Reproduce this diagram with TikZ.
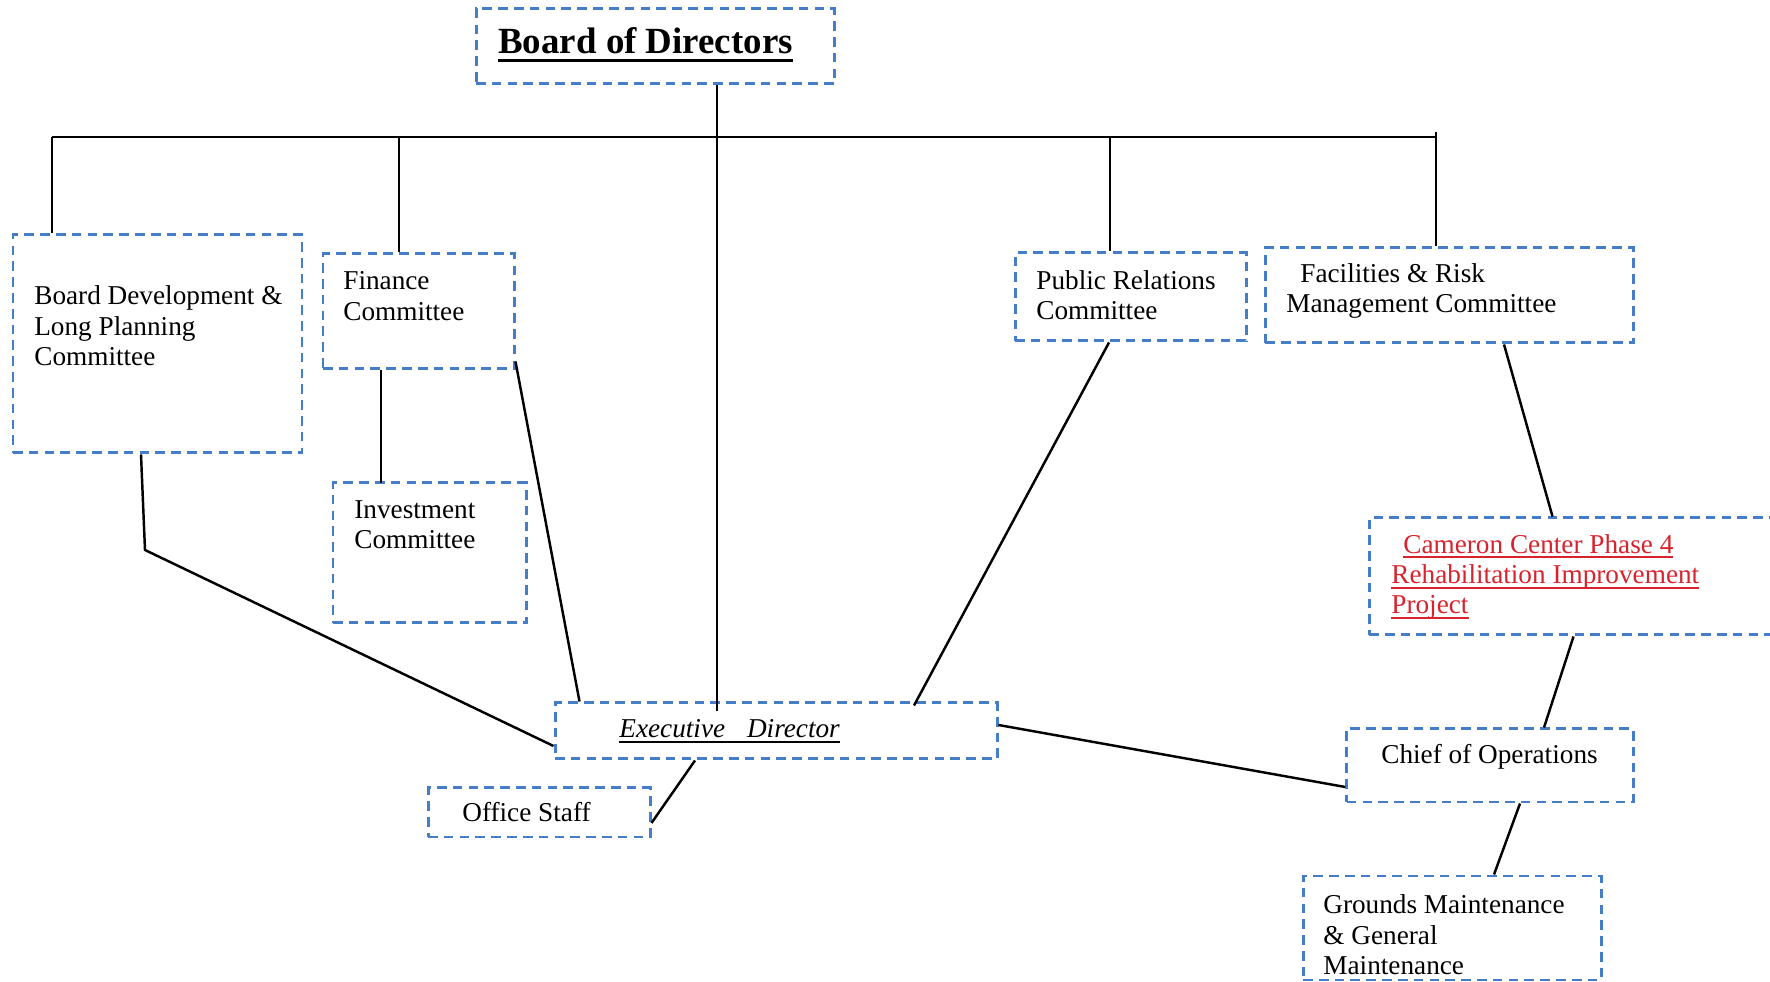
\documentclass[tikz,border=0pt]{standalone}
\usepackage{fontspec}
\setmainfont{Liberation Serif}
\usepackage{tikz}
\definecolor{boxblue}{RGB}{70,125,200}
\definecolor{projred}{RGB}{215,35,45}
\newsavebox{\ulsave}
\newcommand{\ulbar}[3]{\sbox\ulsave{#3}\leavevmode\rlap{\rule[-#1]{\wd\ulsave}{#2}}\usebox\ulsave}
\tikzset{
  orgbox/.style={draw=boxblue, line width=1.7pt, dash pattern=on 5.5pt off 3.5pt, inner sep=0pt},
  link/.style={draw=black, line width=1.4pt},
  boxtext/.style={inner sep=0pt, align=left, font=\fontsize{15.5}{17.3}\selectfont},
}

\begin{document}
\begin{tikzpicture}
  \useasboundingbox (0,0) rectangle (35.4,19.64);
  \clip (0,0) rectangle (35.4,19.64);

  % boxes
  \node[orgbox, minimum width=7.16cm, minimum height=1.50cm] (board) at (13.10,18.71) {};
  \node[orgbox, minimum width=5.78cm, minimum height=4.36cm] (bdev) at (3.15,12.76) {};
  \node[orgbox, minimum width=3.82cm, minimum height=2.30cm] (fin) at (8.37,13.41) {};
  \node[orgbox, minimum width=3.86cm, minimum height=2.80cm] (inv) at (8.59,8.58) {};
  \node[orgbox, minimum width=8.84cm, minimum height=1.12cm] (exec) at (15.52,5.02) {};
  \node[orgbox, minimum width=4.44cm, minimum height=0.98cm] (staff) at (10.78,3.39) {};
  \node[orgbox, minimum width=4.62cm, minimum height=1.76cm] (pr) at (22.61,13.70) {};
  \node[orgbox, minimum width=7.36cm, minimum height=1.90cm] (fac) at (28.98,13.73) {};
  \node[orgbox, minimum width=8.62cm, minimum height=2.34cm] (cam) at (31.69,8.11) {};
  \node[orgbox, minimum width=5.73cm, minimum height=1.46cm] (chief) at (29.80,4.33) {};
  \node[orgbox, minimum width=5.96cm, minimum height=2.08cm] (grounds) at (29.04,1.08) {};

  % texts
  \node[boxtext, anchor=base west, font=\fontsize{21}{24}\selectfont\bfseries] (boardtxt) at (9.96,18.56) {\ulbar{4.5pt}{1.7pt}{Board of Directors}};
  \node[boxtext, anchor=west] (bdevtxt) at (0.68,13.12) {Board Development \&\\ Long Planning\\ Committee};
  \node[boxtext, anchor=west] (fintxt) at (6.86,13.72) {Finance\\ Committee};
  \node[boxtext, anchor=west] (invtxt) at (7.08,9.14) {Investment\\ Committee};
  \node[boxtext, anchor=west] (prtxt) at (20.72,13.74) {Public Relations\\ Committee};
  \node[boxtext, anchor=west] (factxt) at (25.72,13.82) {\hspace*{0.28cm}Facilities \& Risk\\ Management Committee};
  \node[boxtext, anchor=west, text=projred] (camtxt) at (27.82,8.10) {\hspace*{0.24cm}\ulbar{3pt}{1.1pt}{Cameron Center Phase 4}\\ \ulbar{3pt}{1.1pt}{Rehabilitation Improvement}\\ \ulbar{3pt}{1.1pt}{Project}};
  \node[boxtext, anchor=base west, font=\fontsize{15.5}{17.3}\selectfont\itshape] (exectxt) at (12.38,4.88) {\ulbar{3pt}{1.1pt}{Executive\hspace{0.8em}Director}};
  \node[boxtext, anchor=base west] (stafftxt) at (9.24,3.20) {Office Staff};
  \node[boxtext, anchor=base west] (chieftxt) at (27.62,4.36) {Chief of Operations};
  \node[boxtext, anchor=west] (groundstxt) at (26.46,0.94) {Grounds Maintenance\\ \& General\\ Maintenance};

  % bus and drops
  \coordinate (busL) at (1.04,16.90);
  \coordinate (busR) at (28.72,16.90);
  \coordinate (finJ) at (7.98,16.90);
  \coordinate (prJ) at (22.20,16.90);
  \coordinate (trunk) at (14.34,16.90);
  \draw[link] (busL) -- (busR);
  \draw[link] (busL) -- (busL |- bdev.north);
  \draw[link] (finJ) -- (finJ |- fin.north);
  \draw[link] (prJ) -- (prJ |- pr.north);
  \draw[link] ([yshift=0.1cm]busR) -- (busR |- fac.north);
  \draw[link] (trunk |- board.south) -- (trunk |- exec.north) -- ++(0,-0.2);

  % links to the director and below
  \coordinate (bend) at (2.90,8.64);
  \draw[link] ([xshift=-0.33cm]bdev.south) -- (bend) -- ([yshift=-0.3cm]exec.west);
  \draw[link] ([yshift=0.18cm]fin.south east) -- ([xshift=0.52cm]exec.north west);
  \draw[link] ([xshift=-0.75cm]fin.south) |- ([xshift=-0.95cm]inv.north);
  \draw[link] ([xshift=-1.62cm]exec.south) -- ([yshift=-0.21cm]staff.east);
  \draw[link] ([xshift=-0.43cm]pr.south) -- ([xshift=2.76cm, yshift=-0.08cm]exec.north);
  \draw[link] ([yshift=0.12cm]exec.east) -- ([yshift=-0.43cm]chief.west);
  \draw[link] ([xshift=1.10cm]fac.south) -- ([xshift=3.70cm]cam.north west);
  \draw[link] ([xshift=4.12cm]cam.south west) -- ([xshift=1.08cm]chief.north);
  \draw[link] ([xshift=0.60cm]chief.south) -- ([xshift=0.84cm]grounds.north);
\end{tikzpicture}
\end{document}
